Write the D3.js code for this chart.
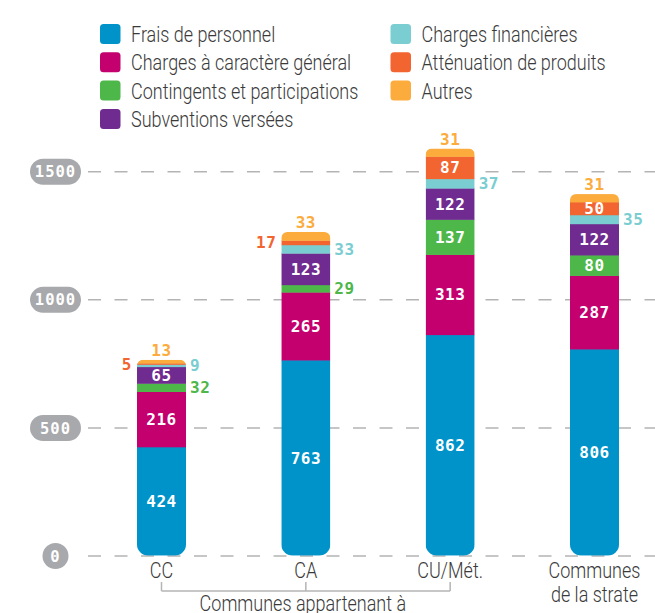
<!DOCTYPE html>
<html>
<head>
<meta charset="utf-8">
<script src="https://cdn.jsdelivr.net/npm/d3@7"></script>
<style>
  body { margin: 0; background: #fff; }
  svg { display: block; }
</style>
</head>
<body>
<svg id="chart" width="655" height="613"></svg>
<script>
// Catégories (le libellé peut tenir sur deux lignes, séparées par \n)
const categories = ["CC", "CA", "CU/Mét.", "Communes\nde la strate"];

// Postes de dépenses, dans l'ordre d'empilement
const seriesNames = [
  "Frais de personnel",
  "Charges à caractère général",
  "Contingents et participations",
  "Subventions versées",
  "Charges financières",
  "Atténuation de produits",
  "Autres"
];
const seriesColors = ["#0093c9", "#c4006f", "#4db749", "#6f2b8f", "#7acdd0", "#f26430", "#fbac3d"];

// Valeurs par catégorie (€ par habitant)
const fraisPersonnel     = [424, 763, 862, 806];
const chargesGenerales   = [216, 265, 313, 287];
const contingents        = [32, 29, 137, 80];
const subventions        = [65, 123, 122, 122];
const chargesFinancieres = [9, 33, 37, 35];
const attenuation        = [5, 17, 87, 50];
const autres             = [13, 33, 31, 31];

const yTicks = [0, 500, 1000, 1500];
const groupLabel = "Communes appartenant à";
const groupedCount = 3; // les trois premières catégories sont regroupées

const seriesValues = [fraisPersonnel, chargesGenerales, contingents, subventions,
                      chargesFinancieres, attenuation, autres];

// Table pour d3.stack
const rows = categories.map((c, i) => {
  const r = { cat: c };
  seriesNames.forEach((s, k) => { r[s] = seriesValues[k][i]; });
  return r;
});
const stacked = d3.stack().keys(seriesNames)(rows);

const svg = d3.select("#chart");
const labelFont = "Roboto, 'Open Sans', sans-serif";
const numFont = "'DejaVu Sans Mono', monospace";
const narrow = 0.8; // compression horizontale du texte courant

// Resserre un texte horizontalement (police étroite et fine)
function condense(textSel) {
  textSel.each(function () {
    const len = this.getComputedTextLength();
    d3.select(this).attr("textLength", len * narrow).attr("lengthAdjust", "spacingAndGlyphs");
  });
}
function styleLabel(sel) {
  return sel.attr("font-family", labelFont).attr("font-weight", 300)
    .attr("font-size", 22.5).attr("fill", "#3a3a3a");
}

const y = d3.scaleLinear().domain([0, 1500]).range([555.5, 171.3]);
const x = d3.scalePoint().domain(categories).range([161.5, 594.5]);
const barW = 49;
const color = d3.scaleOrdinal().domain(seriesNames).range(seriesColors);

// ---- Légende
const legend = svg.append("g").attr("class", "legend");
seriesNames.forEach((name, i) => {
  const col = i < 4 ? 0 : 1;
  const row = i < 4 ? i : i - 4;
  const gx = col === 0 ? 100 : 390.5;
  const gy = 24 + row * 28.3;
  const g = legend.append("g").attr("transform", `translate(${gx},${gy})`);
  g.append("rect").attr("width", 20.5).attr("height", 20).attr("rx", 3.5)
    .attr("fill", color(name));
  const t = g.append("text").attr("x", 31).attr("y", 18).text(name);
  styleLabel(t);
  condense(t);
});

// ---- Axe vertical : lignes pointillées et pastilles grises
const yAxis = d3.axisLeft(y).tickValues(yTicks).tickSize(0).tickFormat(d3.format("d"));
const axisG = svg.append("g").call(yAxis);
axisG.select(".domain").remove();
axisG.selectAll(".tick").each(function (d) {
  const t = d3.select(this);
  t.select("text").remove();
  t.append("line")
    .attr("x1", 88).attr("x2", 655)
    .attr("stroke", "#b4b4b4").attr("stroke-width", 1.5)
    .attr("stroke-dasharray", "13,13.5");
  const label = d3.format("d")(d);
  const w = label.length > 1 ? 51 : 26;
  t.append("rect")
    .attr("x", 55.5 - w / 2).attr("y", -13).attr("width", w).attr("height", 26)
    .attr("rx", 13).attr("fill", "#a8a9ac");
  t.append("text")
    .attr("x", 55.5).attr("y", 0).attr("dy", "0.36em")
    .attr("text-anchor", "middle")
    .attr("font-family", numFont).attr("font-weight", "bold")
    .attr("font-size", 15.5).attr("letter-spacing", 1)
    .attr("fill", "#fff").text(label);
});

// ---- Barres empilées (coins arrondis en haut et en bas)
function barOutline(x0, x1, yTop, yBot, rt, rb) {
  return `M${x0},${yTop + rt} A${rt},${rt} 0 0 1 ${x0 + rt},${yTop}` +
         ` H${x1 - rt} A${rt},${rt} 0 0 1 ${x1},${yTop + rt}` +
         ` V${yBot - rb} A${rb},${rb} 0 0 1 ${x1 - rb},${yBot}` +
         ` H${x0 + rb} A${rb},${rb} 0 0 1 ${x0},${yBot - rb} Z`;
}

const defs = svg.append("defs");
categories.forEach((c, i) => {
  const total = d3.sum(seriesValues, v => v[i]);
  const x0 = x(c) - barW / 2;
  defs.append("clipPath").attr("id", "bar-clip-" + i)
    .append("path")
    .attr("d", barOutline(x0, x0 + barW, y(total), y(0), 6, 11));
});

const barsG = svg.append("g");
stacked.forEach((layer) => {
  barsG.append("g")
    .attr("fill", color(layer.key))
    .selectAll("rect")
    .data(layer)
    .join("rect")
    .attr("clip-path", (d, i) => `url(#bar-clip-${i})`)
    .attr("x", d => x(d.data.cat) - barW / 2)
    .attr("width", barW)
    .attr("y", d => y(d[1]))
    .attr("height", d => y(d[0]) - y(d[1]) + 0.4);
});

// ---- Étiquettes de valeurs
// Les petits segments sont étiquetés à l'extérieur de la barre
const outsideSide = {
  "Contingents et participations": "right",
  "Charges financières": "right",
  "Atténuation de produits": "left",
  "Autres": "top"
};
const labelsG = svg.append("g")
  .attr("font-family", numFont).attr("font-weight", "bold")
  .attr("font-size", 16).attr("letter-spacing", 0.5);
stacked.forEach((layer) => {
  layer.forEach((d) => {
    const v = d[1] - d[0];
    const cx = x(d.data.cat);
    const cy = (y(d[0]) + y(d[1])) / 2;
    const t = labelsG.append("text").text(v);
    if (v >= 50 || !outsideSide[layer.key]) {
      t.attr("x", cx).attr("y", cy).attr("dy", "0.36em")
        .attr("text-anchor", "middle").attr("fill", "#fff");
    } else {
      const side = outsideSide[layer.key];
      t.attr("fill", color(layer.key));
      if (side === "right") {
        t.attr("x", cx + barW / 2 + 4).attr("y", cy).attr("dy", "0.36em")
          .attr("text-anchor", "start");
      } else if (side === "left") {
        t.attr("x", cx - barW / 2 - 5).attr("y", cy).attr("dy", "0.36em")
          .attr("text-anchor", "end");
      } else {
        t.attr("x", cx).attr("y", y(d[1]) - 4).attr("text-anchor", "middle");
      }
    }
  });
});

// ---- Libellés des catégories
const catG = svg.append("g").attr("text-anchor", "middle");
categories.forEach((c) => {
  c.split("\n").forEach((line, k) => {
    const t = catG.append("text").attr("x", x(c)).attr("y", 578 + k * 24).text(line);
    styleLabel(t);
    condense(t);
  });
});

// ---- Accolade regroupant CC, CA et CU/Mét.
const grouped = categories.slice(0, groupedCount);
const gx0 = x(grouped[0]), gx1 = x(grouped[grouped.length - 1]);
const bracket = svg.append("g").attr("stroke", "#b4b4b4").attr("stroke-width", 1.5).attr("fill", "none");
bracket.append("line").attr("x1", gx0).attr("x2", gx1).attr("y1", 591).attr("y2", 591);
grouped.forEach((c) => {
  bracket.append("line").attr("x1", x(c)).attr("x2", x(c)).attr("y1", 582).attr("y2", 591);
});
const gl = svg.append("text")
  .attr("x", (gx0 + gx1) / 2 - 3).attr("y", 611)
  .attr("text-anchor", "middle")
  .text(groupLabel);
styleLabel(gl);
condense(gl);
</script>
</body>
</html>
